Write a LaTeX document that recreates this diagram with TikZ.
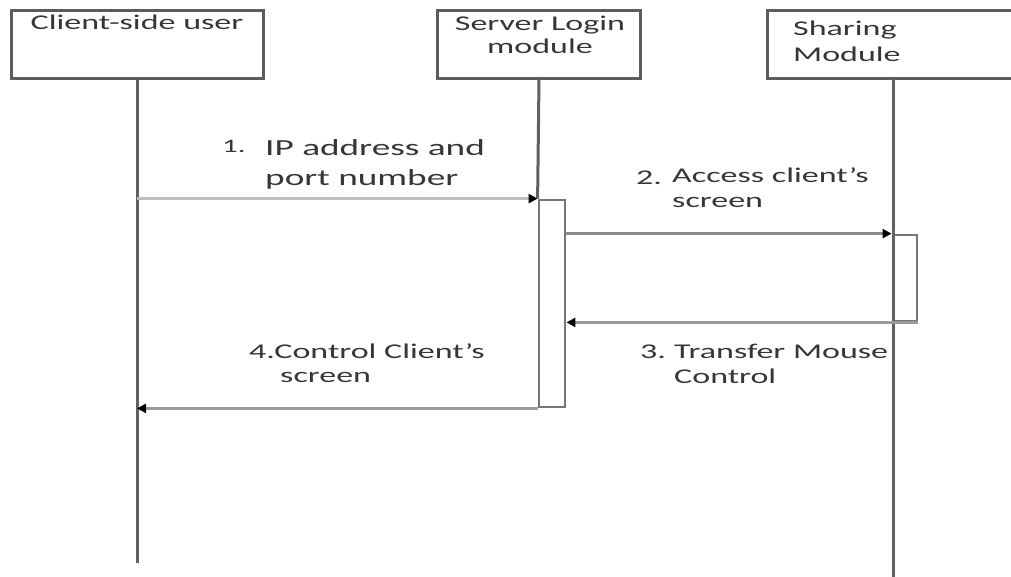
\documentclass[tikz,border=0pt]{standalone}
\usepackage{fontspec}
\usetikzlibrary{arrows.meta}
\newfontfamily\diagfont[FakeStretch=1.62]{Carlito}
\definecolor{frame}{HTML}{5C5C5C}
\definecolor{life}{HTML}{616161}
\definecolor{act}{HTML}{767676}
\definecolor{msgA}{HTML}{BDBDBD}
\definecolor{msgB}{HTML}{8C8C8C}
\definecolor{msgC}{HTML}{9A9A9A}
\definecolor{ink}{HTML}{363636}

\begin{document}
\begin{tikzpicture}[x=1pt,y=-1pt,
  objbox/.style={draw=frame,line width=3pt,rectangle,inner sep=0pt,minimum height=68pt},
  actbox/.style={draw=act,line width=2.8pt,rectangle,inner sep=0pt},
  lifeline/.style={draw=life,line width=3pt},
  msg/.style={line width=3pt,-{Triangle[length=9pt,width=9pt,color=black]}},
  txt/.style={inner sep=0pt,text=ink,font=\diagfont\fontsize{21}{25}\selectfont},
  txtbig/.style={inner sep=0pt,text=ink,font=\diagfont\fontsize{23}{30}\selectfont},
  txtnum/.style={inner sep=0pt,text=ink,font=\diagfont\fontsize{19}{25}\selectfont},
]
\useasboundingbox (0,0) rectangle (1011,576);
\clip (0,0) rectangle (1011,576);

% object boxes
\node[objbox,minimum width=252pt] (client) at (137,44) {};
\node[objbox,minimum width=203pt] (server) at (539,44) {};
\node[objbox,minimum width=274pt] (share) at (904,44) {};

% object titles
\node[txt,anchor=base] (clientT) at (137,29) {Client-side user};
\node[txt,anchor=base] (serverT1) at (540,30) {Server Login};
\node[txt,anchor=base] (serverT2) at (540,53) {module};
\node[txt,anchor=base west] (shareT1) at (793,35) {Sharing};
\node[txt,anchor=base west] (shareT2) at (793,61) {Module};

% lifeline end points
\coordinate (shareTop) at (893,78);
\coordinate (shareEnd) at (893,580);
\coordinate (clientEnd) at (137,563);

% activation bars
\node[actbox,minimum width=26pt,minimum height=207pt] (act1) at (552,303.5) {};
\node[actbox,minimum width=24pt,minimum height=86pt] (act2) at (905,278) {};

% lifelines
\draw[lifeline] (client.south) -- (clientEnd);
\draw[lifeline] (server.south) -- (act1.north west);
\draw[lifeline] (shareTop) -- (shareEnd);

% messages
\draw[msg,draw=msgA] (client.south |- act1.north west) -- (act1.north west);
\draw[msg,draw=msgB] (act1.east |- act2.north west) -- (act2.north west);
\draw[msg,draw=msgC] (act2.south east) -- (act1.east |- act2.south east);
\draw[msg,draw=msgC] (act1.south west) -- (client.south |- act1.south west);

% message labels
\node[txtnum,anchor=base west] (n1) at (222,152) {1.};
\node[txtbig,anchor=base west] (m1a) at (265,155) {IP address and};
\node[txtbig,anchor=base west] (m1b) at (265,185) {port number};

\node[txt,anchor=base west] (n2) at (636,184) {2.};
\node[txt,anchor=base west] (m2a) at (672,182) {Access client’s};
\node[txt,anchor=base west] (m2b) at (672,207) {screen};

\node[txt,anchor=base west] (n3) at (640,358) {3.};
\node[txt,anchor=base west] (m3a) at (674,358) {Transfer Mouse};
\node[txt,anchor=base west] (m3b) at (674,383) {Control};

\node[txt,anchor=base west] (m4a) at (249,358) {4.Control Client’s};
\node[txt,anchor=base west] (m4b) at (280,382) {screen};
\end{tikzpicture}
\end{document}
